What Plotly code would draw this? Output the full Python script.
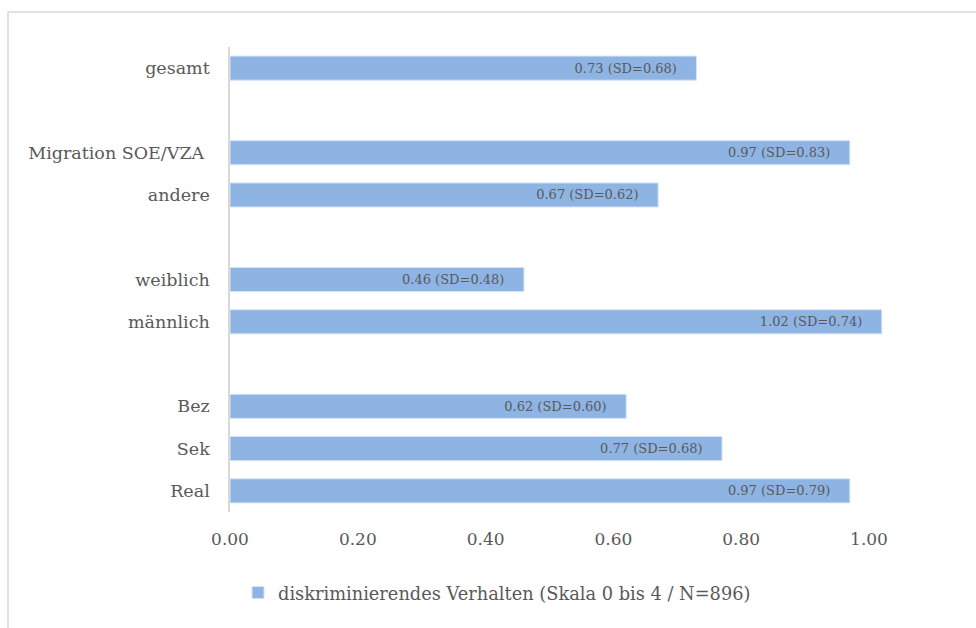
import plotly.graph_objects as go

groups = [
    ["gesamt"],
    ["Migration SOE/VZA ", "andere"],
    ["weiblich", "männlich"],
    ["Bez", "Sek", "Real"],
]
values = {
    "gesamt": 0.73,
    "Migration SOE/VZA ": 0.97,
    "andere": 0.67,
    "weiblich": 0.46,
    "männlich": 1.02,
    "Bez": 0.62,
    "Sek": 0.77,
    "Real": 0.97,
}
sds = {
    "gesamt": 0.68,
    "Migration SOE/VZA ": 0.83,
    "andere": 0.62,
    "weiblich": 0.48,
    "männlich": 0.74,
    "Bez": 0.60,
    "Sek": 0.68,
    "Real": 0.79,
}
series_name = "diskriminierendes Verhalten (Skala 0 bis 4 / N=896)"
x_ticks = [0.0, 0.2, 0.4, 0.6, 0.8, 1.0]

# slot positions: one empty slot between groups
cats, pos = [], []
slot = 0
for gi, g in enumerate(groups):
    if gi > 0:
        slot += 1
    for c in g:
        cats.append(c)
        pos.append(slot)
        slot += 1
nslots = slot

xs = [values[c] for c in cats]
texts = [f"{values[c]:.2f} (SD={sds[c]:.2f})" for c in cats]

FONT = "DejaVu Serif"
GRAY = "#595959"

fig = go.Figure()
fig.add_trace(go.Bar(
    x=xs, y=pos, orientation="h", name=series_name,
    text=texts, texttemplate="%{text}\u00a0\u00a0\u00a0\u00a0",
    textposition="inside", insidetextanchor="end",
    textfont=dict(family=FONT, size=13, color=GRAY),
    constraintext="none", textangle=0,
    marker=dict(color="#8EB4E3", line=dict(color="#D6E3F5", width=1)),
    width=0.57, cliponaxis=False, hoverinfo="skip",
))

L, T, B = 230, 47, 628 - 512
W = 976 - L
H = 628 - T - B
fig.update_layout(
    width=976, height=628,
    margin=dict(l=L, r=0, t=T, b=B, autoexpand=False),
    paper_bgcolor="white", plot_bgcolor="white",
    font=dict(family=FONT, color=GRAY, size=17),
    showlegend=True,
    legend=dict(orientation="h", x=(238 - L) / W, xanchor="left",
                y=-(593 - 512) / H, yanchor="middle",
                font=dict(family=FONT, size=17.8, color=GRAY),
                itemwidth=30, bgcolor="rgba(0,0,0,0)"),
    xaxis=dict(range=[0, (976 - L) / 639.0], tickvals=x_ticks,
               ticktext=[f"{v:.2f}" for v in x_ticks],
               showgrid=False, zeroline=False, showline=False,
               ticks="outside", ticklen=12, tickcolor="rgba(0,0,0,0)",
               tickfont=dict(family=FONT, size=17, color=GRAY)),
    yaxis=dict(range=[nslots - 0.5, -0.5], tickvals=pos, ticktext=cats,
               showgrid=False, zeroline=False, showline=True,
               linecolor="#D9D9D9", linewidth=1.5,
               ticks="outside", ticklen=15, tickcolor="rgba(0,0,0,0)",
               tickfont=dict(family=FONT, size=17.5, color=GRAY)),
    shapes=[
        dict(type="rect", xref="paper", yref="paper",
             x0=(8 - L) / W, x1=1.2, y0=-0.5, y1=1 + (T - 12) / H,
             line=dict(color="#D9D9D9", width=1.5), fillcolor="rgba(0,0,0,0)",
             layer="below"),
    ],
)
fig.write_html("out.html", config={"displayModeBar": False},
               post_script="document.body.style.margin='0';")
